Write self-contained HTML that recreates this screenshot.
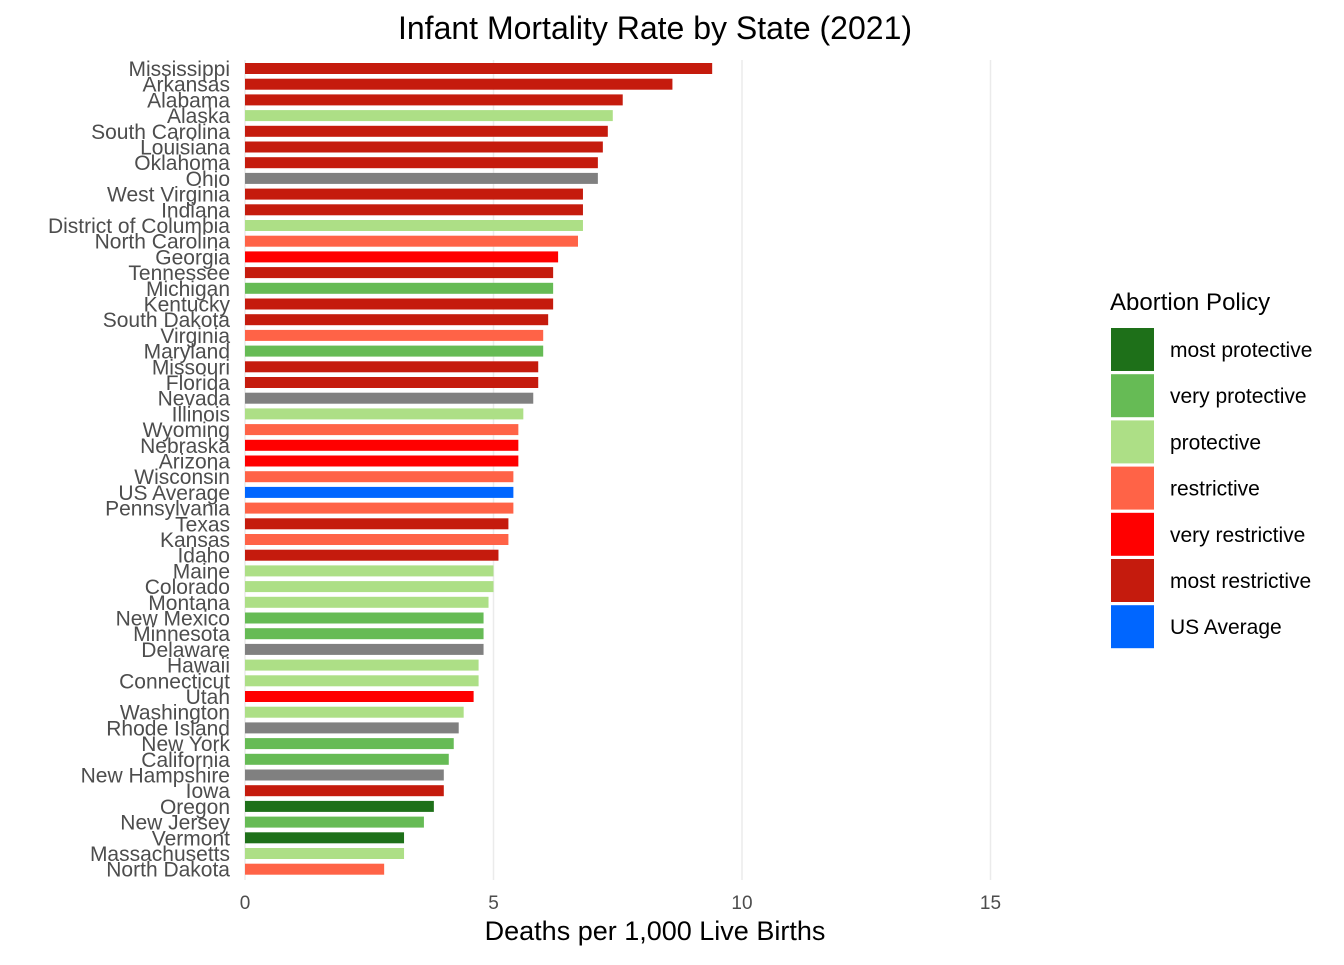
<!DOCTYPE html>
<html><head><meta charset="utf-8"><style>
body{margin:0;background:#fff;font-family:"Liberation Sans",Arial,sans-serif;}
</style></head><body>
<svg id="chart" width="1344" height="960" xmlns="http://www.w3.org/2000/svg" font-family="Liberation Sans, Arial, sans-serif"></svg>
<script>
const states=["Mississippi","Arkansas","Alabama","Alaska","South Carolina","Louisiana","Oklahoma","Ohio","West Virginia","Indiana","District of Columbia","North Carolina","Georgia","Tennessee","Michigan","Kentucky","South Dakota","Virginia","Maryland","Missouri","Florida","Nevada","Illinois","Wyoming","Nebraska","Arizona","Wisconsin","US Average","Pennsylvania","Texas","Kansas","Idaho","Maine","Colorado","Montana","New Mexico","Minnesota","Delaware","Hawaii","Connecticut","Utah","Washington","Rhode Island","New York","California","New Hampshire","Iowa","Oregon","New Jersey","Vermont","Massachusetts","North Dakota"];
const rates=[9.4,8.6,7.6,7.4,7.3,7.2,7.1,7.1,6.8,6.8,6.8,6.7,6.3,6.2,6.2,6.2,6.1,6.0,6.0,5.9,5.9,5.8,5.6,5.5,5.5,5.5,5.4,5.4,5.4,5.3,5.3,5.1,5.0,5.0,4.9,4.8,4.8,4.8,4.7,4.7,4.6,4.4,4.3,4.2,4.1,4.0,4.0,3.8,3.6,3.2,3.2,2.8];
const policies=["mr","mr","mr","p","mr","mr","mr","na","mr","mr","p","r","vr","mr","vp","mr","mr","r","vp","mr","mr","na","p","r","vr","vr","r","us","r","mr","r","mr","p","p","p","vp","vp","na","p","p","vr","p","na","vp","vp","na","mr","mp","vp","mp","p","r"];
const xTicks=[0,5,10,15];
const legendKeys=["mp","vp","p","r","vr","mr","us"];
const legendLabels=["most protective","very protective","protective","restrictive","very restrictive","most restrictive","US Average"];
const colors={mp:"#1E7019",vp:"#66BB55",p:"#ADDF86",r:"#FF6347",vr:"#FF0000",mr:"#C51B0D",us:"#0066FF",na:"#808080"};
const svg=document.getElementById('chart');
const NS="http://www.w3.org/2000/svg";
const x=v=>245+v*49.7;
const y=i=>68.5+i*15.7;
function mk(t,a,txt){const e=document.createElementNS(NS,t);for(const k in a)e.setAttribute(k,a[k]);if(txt!==undefined)e.textContent=txt;svg.appendChild(e);return e;}
let e=mk('text',{x:655,y:39,'text-anchor':'middle','font-size':32,fill:'#000'},'Infant Mortality Rate by State (2021)');


xTicks.forEach(t=>{
 let g=mk('line',{x1:x(t),x2:x(t),y1:60,y2:880,stroke:'#ebebeb','stroke-width':1.5});
 
 
 let l=mk('text',{x:x(t),y:909,'text-anchor':'middle','font-size':19,fill:'#4d4d4d'},String(t));
 
 
});
states.forEach((s,i)=>{
 let b=mk('rect',{x:x(0),y:y(i)-5.5,width:x(rates[i])-x(0),height:11,fill:colors[policies[i]]});
 
 
 let t=mk('text',{x:230,y:y(i)+7.5,'text-anchor':'end','font-size':21,fill:'#4d4d4d'},s);
 
 
});
e=mk('text',{x:655,y:940,'text-anchor':'middle','font-size':27,fill:'#000'},'Deaths per 1,000 Live Births');


e=mk('text',{x:1110,y:310,'font-size':24,fill:'#000'},'Abortion Policy');


legendKeys.forEach((k,i)=>{
 let r=mk('rect',{x:1111,y:328+i*46.2,width:43,height:43,fill:colors[k]});
 
 
 let t=mk('text',{x:1170,y:357+i*46.2,'font-size':21,fill:'#000'},legendLabels[i]);
 
 
});
</script>
</body></html>
